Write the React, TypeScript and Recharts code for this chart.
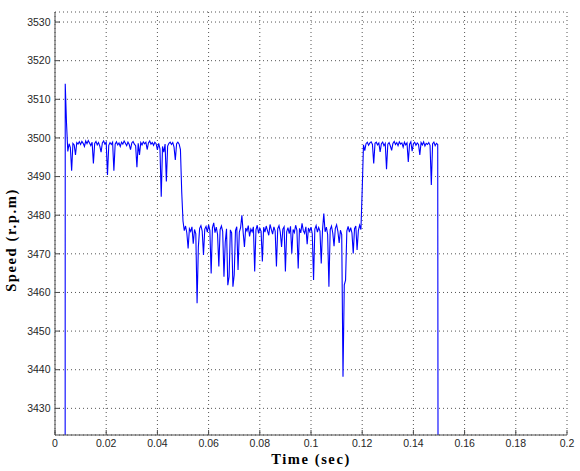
import React from 'react';
import { LineChart, Line, XAxis, YAxis, CartesianGrid, Label } from 'recharts';

// ---- data (speed in r.p.m, time in seconds) ----
const sampleStep = 0.0005;

const startupTime = [0.0038];
const startupSpeed = [3000];

const seg1Start = 0.004;
const seg1Speed = [
  3514, 3503.8, 3496.5, 3498.5, 3497.5, 3491.5, 3498.6, 3498.2, 3495.6, 3498.8,
  3498.4, 3499.0, 3498.3, 3499.1, 3498.6, 3497.8, 3499.2, 3498.5, 3499.3, 3498.7,
  3498.0, 3498.9, 3493.4, 3498.6, 3499.1, 3498.2, 3498.8, 3497.9, 3496.3, 3498.7,
  3499.2, 3498.4, 3498.9, 3490.4, 3498.1, 3498.8, 3498.3, 3498.9, 3491.5, 3498.4,
  3499.0, 3498.2, 3498.7, 3497.8, 3498.9, 3498.4, 3499.2, 3498.6, 3498.0, 3498.9,
  3498.3, 3497.0, 3498.7, 3499.1, 3498.4, 3498.0, 3492.4, 3498.6, 3495.6, 3498.8,
  3498.2, 3499.0, 3498.5, 3498.9, 3497.0, 3498.7, 3499.2, 3498.4, 3498.8, 3498.1,
  3498.9, 3498.5, 3496.9, 3498.6, 3497.2, 3484.8, 3497.8, 3496.3, 3498.4, 3488.7,
  3497.9, 3498.6, 3498.9, 3498.3, 3498.8, 3497.6, 3494.3, 3498.5, 3498.9, 3498.4,
  3497.0,
];

const seg2Start = 0.0495;
const seg2Speed = [
  3486, 3478.5, 3476.0, 3477.2, 3475.4, 3471.4, 3476.5, 3475.8, 3477.0, 3472.6,
  3476.3, 3475.2, 3457.2, 3471.8, 3476.6, 3477.3, 3475.9, 3469.7, 3476.4, 3477.1,
  3475.6, 3477.5, 3476.0, 3464.9, 3476.8, 3478.0, 3475.5, 3476.9, 3475.0, 3466.7,
  3476.3, 3477.2, 3475.8, 3464.1, 3473.0, 3476.5, 3461.9, 3464.1, 3476.2, 3475.4,
  3461.5, 3464.5, 3476.0, 3477.0, 3465.8, 3475.6, 3476.8, 3480.0, 3475.5, 3471.8,
  3476.7, 3475.9, 3477.3, 3474.5, 3476.4, 3475.7, 3477.0, 3465.4, 3476.2, 3477.4,
  3475.3, 3476.6, 3475.8, 3468.0, 3476.9, 3475.6, 3477.2, 3476.0, 3474.8, 3477.6,
  3476.3, 3475.1, 3477.0, 3475.9, 3466.7, 3476.5, 3477.3, 3475.6, 3471.8, 3476.4,
  3477.0, 3465.4, 3475.7, 3476.8, 3475.2, 3477.1, 3470.1, 3476.3, 3475.5, 3477.4,
  3476.1, 3466.2, 3476.6, 3475.4, 3477.9, 3476.0, 3475.3, 3477.0, 3472.5, 3476.7,
  3475.8, 3476.9, 3475.2, 3463.2, 3476.4, 3477.3, 3475.6, 3476.8, 3475.9, 3467.5,
  3476.2, 3480.4, 3475.7, 3476.9, 3475.0, 3461.5, 3476.3, 3477.2, 3475.4, 3472.0,
  3476.6, 3477.5, 3475.8, 3472.8, 3476.1, 3475.0, 3438.2, 3462.0, 3463.2, 3475.9,
  3477.1, 3475.6, 3476.8, 3475.4, 3470.1, 3476.5, 3477.2, 3471.0, 3476.0, 3477.4,
  3476.3,
];

const seg3Start = 0.12;
const seg3Speed = [
  3486.5, 3498.2, 3496.7, 3498.5, 3498.9, 3498.1, 3498.7, 3499.0, 3498.3, 3493.4,
  3498.6, 3498.9, 3498.2, 3498.7, 3496.4, 3498.5, 3498.9, 3498.0, 3498.6, 3491.9,
  3498.4, 3498.8, 3497.9, 3496.8, 3498.6, 3499.1, 3498.3, 3498.8, 3498.0, 3499.0,
  3498.4, 3498.7, 3497.6, 3498.9, 3498.2, 3498.7, 3493.8, 3498.4, 3499.0, 3496.6,
  3498.5, 3498.9, 3498.1, 3498.7, 3498.3, 3495.6, 3498.8, 3498.2, 3499.0, 3497.9,
  3498.6, 3498.3, 3498.8, 3498.1, 3487.8, 3498.5, 3498.9, 3498.0, 3498.6, 3498.3,
];

const shutdownTime = [0.1498];
const shutdownSpeed = [3300];

const xTicks = [0, 0.02, 0.04, 0.06, 0.08, 0.1, 0.12, 0.14, 0.16, 0.18, 0.2];
const xTickLabels = ['0', '0.02', '0.04', '0.06', '0.08', '0.1', '0.12', '0.14', '0.16', '0.18', '0.2'];
const yTicks = [3430, 3440, 3450, 3460, 3470, 3480, 3490, 3500, 3510, 3520, 3530];
const yDomain = [3423.1, 3532.6];

// ---- build table ----
type Pt = { t: number; speed: number };
const data: Pt[] = [];
startupTime.forEach((t, i) => data.push({ t, speed: startupSpeed[i] }));
const addSeg = (start: number, speeds: number[]) =>
  speeds.forEach((s, i) => data.push({ t: Math.round((start + i * sampleStep) * 1e5) / 1e5, speed: s }));
addSeg(seg1Start, seg1Speed);
addSeg(seg2Start, seg2Speed);
addSeg(seg3Start, seg3Speed);
shutdownTime.forEach((t, i) => data.push({ t, speed: shutdownSpeed[i] }));

const tickFont = { fontSize: 10.5, fill: '#262626', fontFamily: '"Liberation Sans", Arial, sans-serif' };
const axisColor = '#4a4a4a';
const labelStyle = {
  fontFamily: '"Liberation Serif", "Times New Roman", serif',
  fontWeight: 'bold' as const,
  fontSize: 14.5,
  letterSpacing: 1.6,
  fill: '#000',
};

const YTitle = () => (
  <text x={0} y={0} transform="translate(16, 240) rotate(-90)" textAnchor="middle" style={labelStyle}>
    Speed (r.p.m)
  </text>
);

export default function App() {
  return (
    <div style={{ position: 'absolute', left: 0, top: 0, width: 580, height: 471, background: '#fff' }}>
      <LineChart width={580} height={471} data={data} margin={{ top: 12, right: 13, left: 0, bottom: 0 }}>
        <CartesianGrid stroke="#555" strokeDasharray="1 3" strokeWidth={1} />
        <XAxis
          dataKey="t"
          type="number"
          domain={[0, 0.2]}
          ticks={xTicks}
          interval={0}
          tickFormatter={(v: number, i: number) => xTickLabels[i] ?? String(v)}
          height={36}
          tickSize={-5}
          tickMargin={9.5}
          stroke={axisColor}
          tickLine={{ stroke: axisColor }}
          axisLine={{ stroke: axisColor }}
          tick={tickFont}
        >
          <Label value="Time (sec)" position="insideBottom" offset={7} style={labelStyle} />
        </XAxis>
        <XAxis
          xAxisId="top"
          orientation="top"
          type="number"
          domain={[0, 0.2]}
          ticks={xTicks}
          interval={0}
          height={0}
          tick={false}
          tickSize={-5}
          stroke={axisColor}
          tickLine={{ stroke: axisColor }}
          axisLine={{ stroke: axisColor }}
        />
        <YAxis
          type="number"
          domain={yDomain}
          allowDataOverflow
          ticks={yTicks}
          interval={0}
          width={55}
          tickSize={-5}
          tickMargin={9.5}
          stroke={axisColor}
          tickLine={{ stroke: axisColor }}
          axisLine={{ stroke: axisColor }}
          tick={tickFont}
        >
          <Label content={<YTitle />} />
        </YAxis>
        <YAxis
          yAxisId="right"
          orientation="right"
          type="number"
          domain={yDomain}
          allowDataOverflow
          ticks={yTicks}
          interval={0}
          width={0}
          tick={false}
          tickSize={-5}
          stroke={axisColor}
          tickLine={{ stroke: axisColor }}
          axisLine={{ stroke: axisColor }}
        />
        <Line
          dataKey="speed"
          type="linear"
          stroke="#0000ff"
          strokeWidth={1.1}
          dot={false}
          activeDot={false}
          isAnimationActive={false}
        />
      </LineChart>
    </div>
  );
}
